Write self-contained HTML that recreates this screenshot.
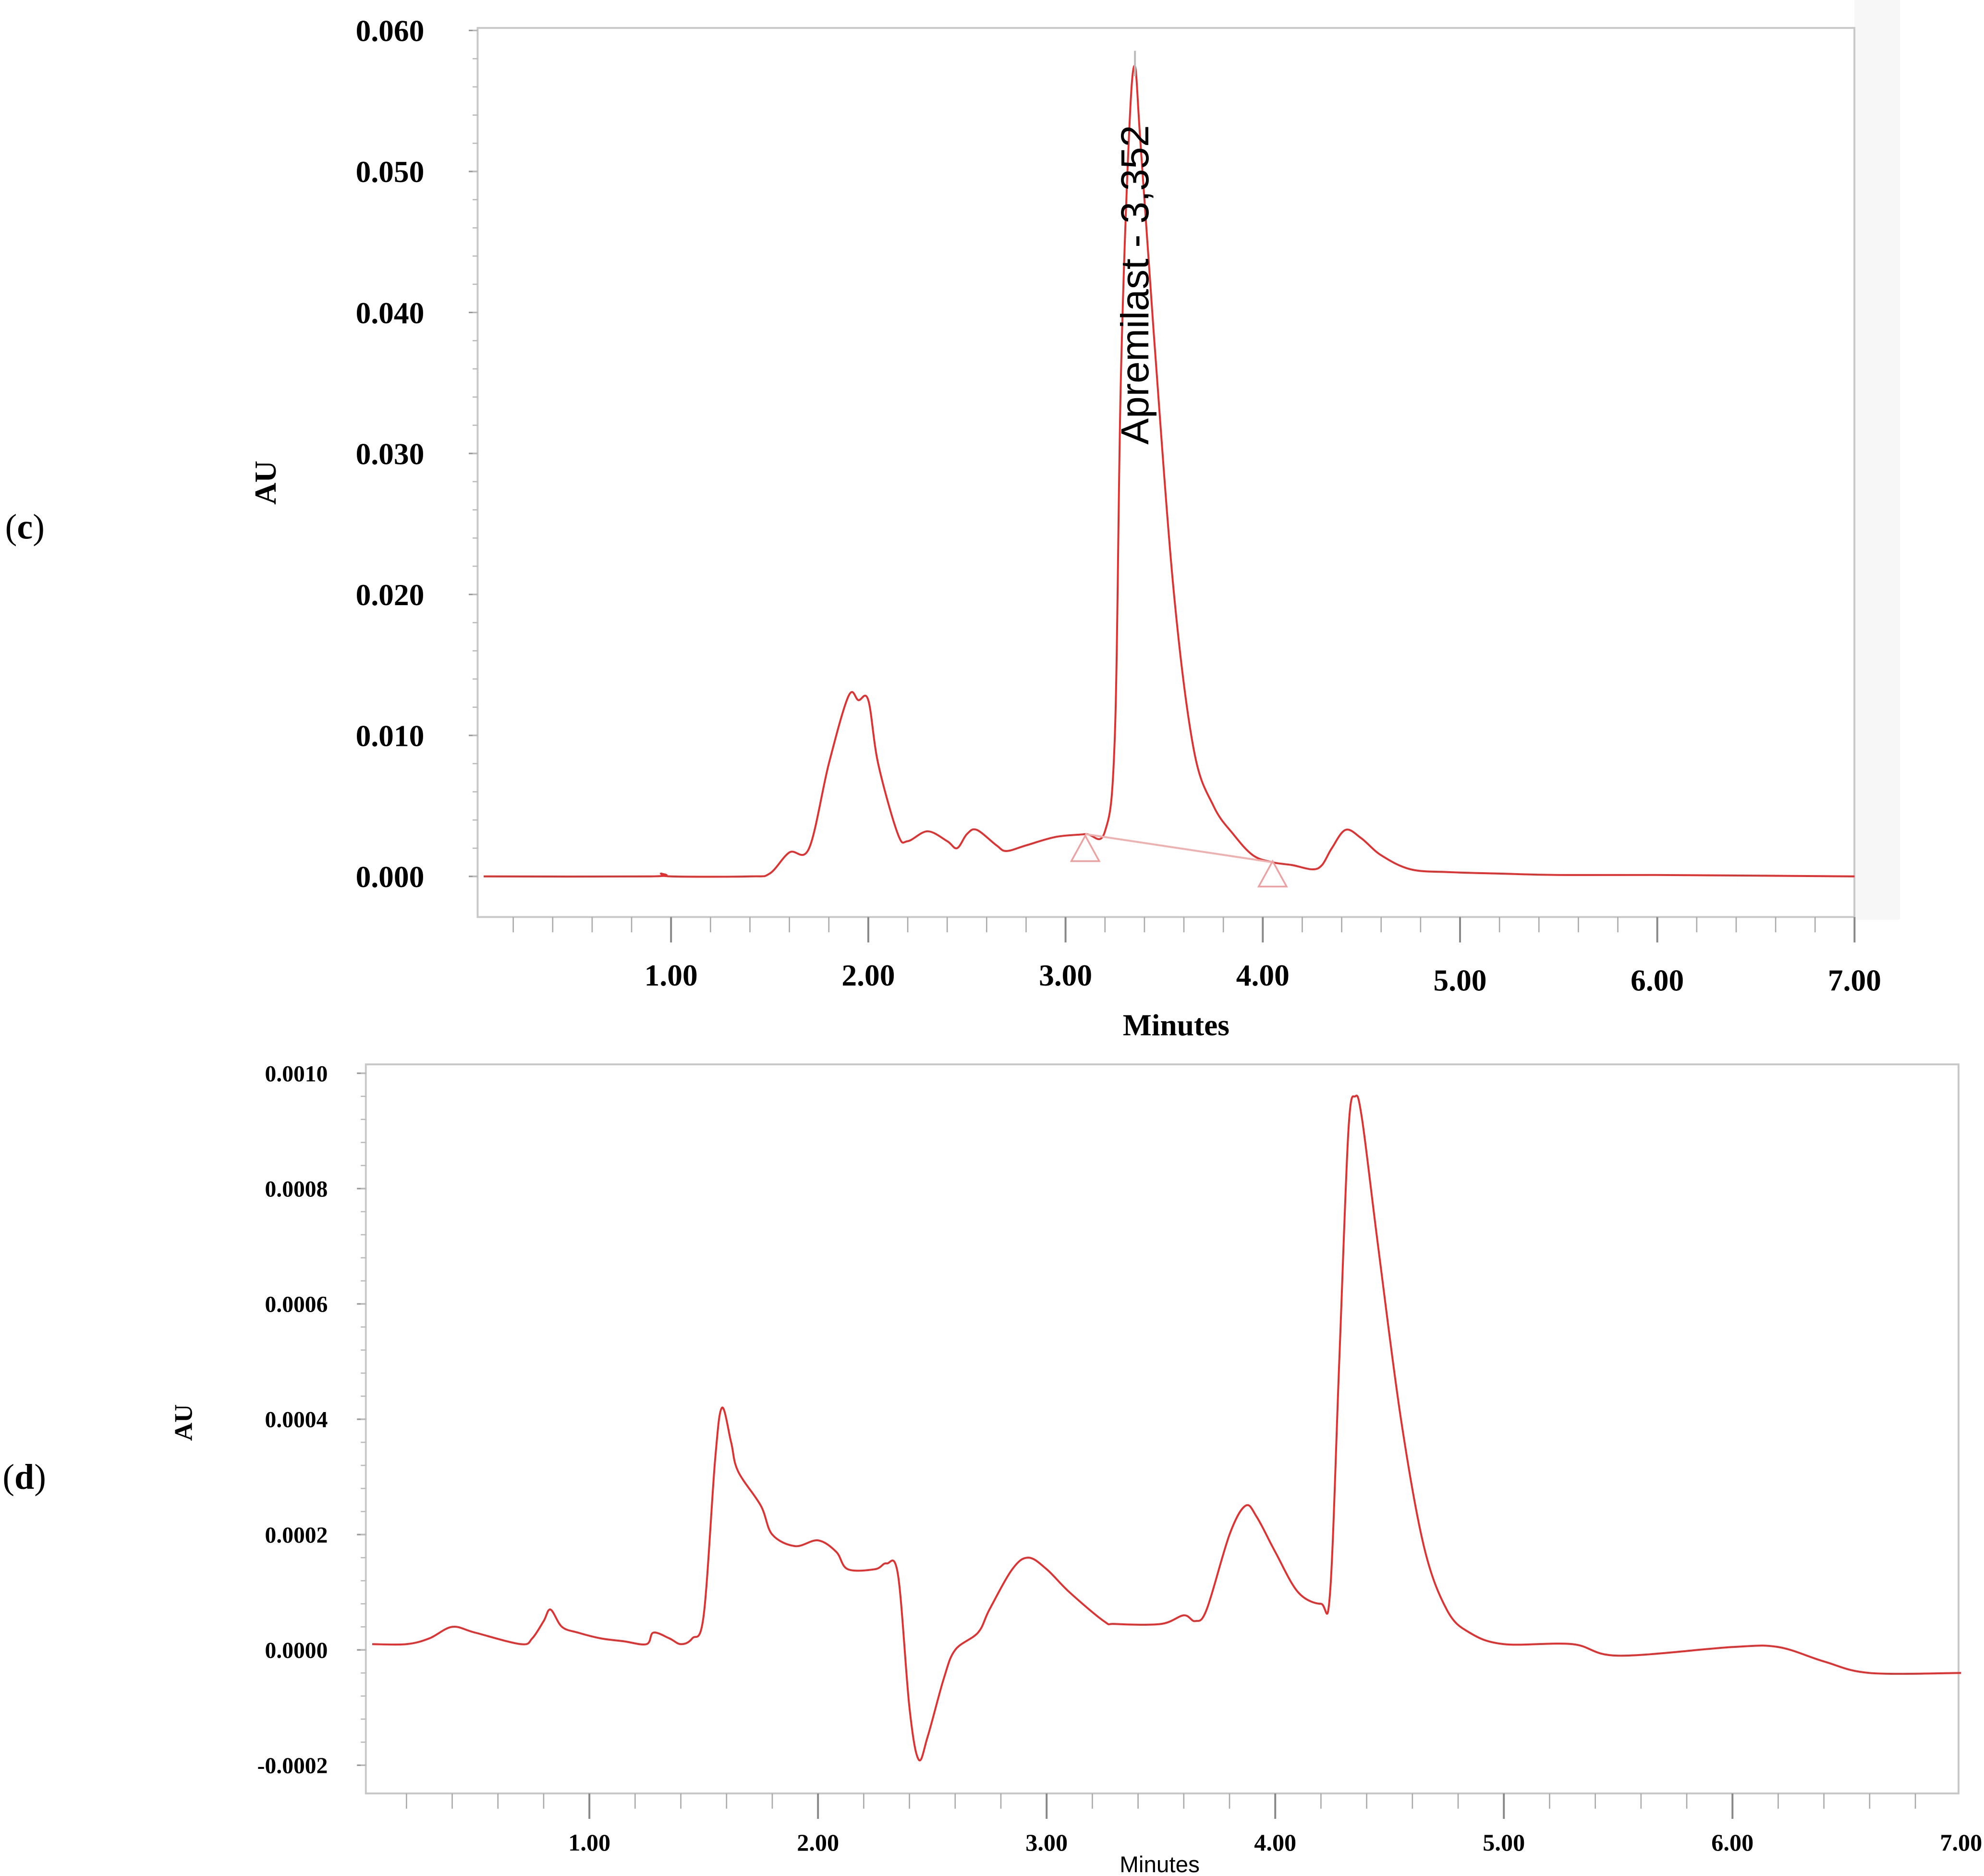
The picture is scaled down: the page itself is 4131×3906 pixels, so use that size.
<!DOCTYPE html>
<html><head><meta charset="utf-8"><style>
html,body{margin:0;padding:0;background:#fff;}
svg{display:block;}
</style></head><body>
<svg id="fig" width="4131" height="3906" viewBox="0 0 1562 1477" xmlns="http://www.w3.org/2000/svg">
<rect x="0" y="0" width="1562" height="1477" fill="#fff"/>
<rect x="1460" y="0" width="36" height="724" fill="#f7f7f7"/>
<text x="4" y="424" font-family="Liberation Serif, serif" font-size="28">(<tspan font-weight="bold">c</tspan>)</text>
<text x="2" y="1172" font-family="Liberation Serif, serif" font-size="28">(<tspan font-weight="bold">d</tspan>)</text>
<g id="chartC"></g>
<g id="chartD"></g>
</svg>
<script>
const NS="http://www.w3.org/2000/svg";
// Chart C data
const cTime=[0.05,0.9,0.95,1.0,1.4,1.5,1.6,1.7,1.8,1.9,1.95,2.0,2.05,2.15,2.2,2.3,2.4,2.45,2.5,2.55,2.65,2.7,2.8,2.95,3.1,3.2,3.25,3.28,3.32,3.35,3.38,3.45,3.55,3.65,3.75,3.85,3.95,4.05,4.15,4.25,4.3,4.35,4.42,4.5,4.6,4.75,4.95,5.2,5.5,6.0,7.0];
const cAU=[0,0,0.0002,0,0,0.0002,0.0017,0.002,0.008,0.0128,0.0125,0.0125,0.008,0.003,0.0025,0.0032,0.0025,0.002,0.003,0.0033,0.0022,0.0018,0.0022,0.0028,0.003,0.0032,0.01,0.035,0.052,0.0575,0.052,0.038,0.02,0.009,0.005,0.003,0.0015,0.001,0.0008,0.0005,0.0008,0.002,0.0033,0.0027,0.0015,0.0005,0.0003,0.0002,0.0001,0.0001,0];
const cYTicks=[0,0.01,0.02,0.03,0.04,0.05,0.06];
const cYLabels=["0.000","0.010","0.020","0.030","0.040","0.050","0.060"];
const cXTicks=[1,2,3,4,5,6,7];
const cXLabels=["1.00","2.00","3.00","4.00","5.00","6.00","7.00"];
const cBaseline=[[3.1,0.003],[4.05,0.001]];
// Chart D data
const dTime=[0.05,0.2,0.3,0.4,0.5,0.7,0.75,0.8,0.83,0.88,0.95,1.05,1.15,1.25,1.28,1.35,1.4,1.45,1.5,1.55,1.58,1.62,1.65,1.75,1.8,1.9,2.0,2.08,2.13,2.25,2.3,2.35,2.4,2.44,2.48,2.55,2.6,2.7,2.75,2.85,2.92,3.0,3.1,3.25,3.3,3.5,3.6,3.65,3.7,3.8,3.87,3.92,4.0,4.1,4.2,4.24,4.28,4.32,4.35,4.38,4.45,4.55,4.65,4.75,4.85,5.0,5.3,5.5,6.0,6.2,6.4,6.6,7.0];
const dAU=[0.00001,0.00001,0.00002,0.00004,0.00003,0.00001,0.00002,0.00005,0.00007,0.00004,0.00003,0.00002,0.000015,0.00001,0.00003,0.00002,0.00001,0.00002,0.00006,0.00033,0.00042,0.00036,0.00031,0.00025,0.0002,0.00018,0.00019,0.00017,0.00014,0.00014,0.00015,0.00013,-0.0001,-0.00019,-0.00015,-0.00005,0,0.00003,0.00007,0.00014,0.00016,0.00014,0.0001,0.00005,0.000045,0.000045,0.00006,0.00005,0.00007,0.0002,0.00025,0.00023,0.00017,0.0001,0.00008,0.0001,0.0005,0.0009,0.00096,0.00092,0.0007,0.0004,0.00018,0.00007,0.00003,0.00001,0.00001,-0.00001,0.000005,0.000005,-0.00002,-0.00004,-0.00004];
const dYTicks=[-0.0002,0,0.0002,0.0004,0.0006,0.0008,0.001];
const dYLabels=["-0.0002","0.0000","0.0002","0.0004","0.0006","0.0008","0.0010"];
const dXTicks=[1,2,3,4,5,6,7];
const dXLabels=["1.00","2.00","3.00","4.00","5.00","6.00","7.00"];

function mk(parent,tag,attrs){const e=document.createElementNS(NS,tag);for(const k in attrs)e.setAttribute(k,attrs[k]);parent.appendChild(e);return e;}
function smooth(pts){let d="M"+pts[0][0]+","+pts[0][1];for(let i=0;i<pts.length-1;i++){const p0=pts[i-1]||pts[i],p1=pts[i],p2=pts[i+1],p3=pts[i+2]||p2;const c1x=p1[0]+(p2[0]-p0[0])/6,c1y=p1[1]+(p2[1]-p0[1])/6,c2x=p2[0]-(p3[0]-p1[0])/6,c2y=p2[1]-(p3[1]-p1[1])/6;d+=` C${c1x},${c1y} ${c2x},${c2y} ${p2[0]},${p2[1]}`;}return d;}

function drawChart(g,o){
  const X=t=>o.x0+t*o.xs, Y=v=>o.y0-v*o.ys;
  const fr=mk(g,'rect',{x:o.L,y:o.T,width:o.R-o.L,height:o.B-o.T,fill:'none',stroke:'#c8c8c8','stroke-width':1.5});
  
  
  o.yt.forEach((v,i)=>{
    const l=mk(g,'line',{x1:o.L-7,x2:o.L,y1:Y(v),y2:Y(v),stroke:'#999','stroke-width':1.2});
    
    
    const t=mk(g,'text',{x:o.L-o.ylOff,y:Y(v)+o.yfs*0.35,'text-anchor':'end','font-family':'Liberation Serif, serif','font-size':o.yfs,'font-weight':'bold'});
    t.textContent=o.yl[i];
    
    
  });
  const ymin=o.yt[0],ymax=o.yt[o.yt.length-1];
  for(let k=0;k<=Math.round((ymax-ymin)/o.ym);k++){const v=ymin+k*o.ym;const l=mk(g,'line',{x1:o.L-4,x2:o.L,y1:Y(v),y2:Y(v),stroke:'#bbb','stroke-width':1});}
  for(let k=1;k<=35;k++){const t=k*0.2;if(X(t)>o.R+1)break;const major=Math.abs(t-Math.round(t))<1e-6;const l=mk(g,'line',{x1:X(t),x2:X(t),y1:o.B,y2:o.B+(major?20:12),stroke:major?'#888':'#aaa','stroke-width':major?1.5:1});}
  o.xt.forEach((v,i)=>{
    const t=mk(g,'text',{x:X(v),y:o.xlY+(o.xlDrop&&v>=5?4:0),'text-anchor':'middle','font-family':'Liberation Serif, serif','font-size':o.xfs,'font-weight':'bold'});
    t.textContent=o.xl[i];
    
    
  });
  const pts=o.tm.map((t,i)=>[X(t),Y(o.au[i])]);
  const p=mk(g,'path',{d:smooth(pts),fill:'none',stroke:'#e03030','stroke-width':1.5,'stroke-linejoin':'round'});
  
  
  return {X,Y};
}

const gc=document.getElementById('chartC');
const C=drawChart(gc,{L:376,T:22,R:1460,B:722,x0:373,xs:155.3,y0:690,ys:11100,yt:cYTicks,yl:cYLabels,ym:0.002,xt:cXTicks,xl:cXLabels,tm:cTime,au:cAU,yfs:24,ylOff:42,xfs:24,xlY:776,xlDrop:true});
const bl=mk(gc,'line',{x1:C.X(cBaseline[0][0]),y1:C.Y(cBaseline[0][1]),x2:C.X(cBaseline[1][0]),y2:C.Y(cBaseline[1][1]),stroke:'#f0b0b0','stroke-width':1.5});


cBaseline.forEach(([t,v],i)=>{const x=C.X(t),y=i===0?680:700;const tr=mk(gc,'path',{d:`M${x},${y-22} L${x-11},${y-2} L${x+11},${y-2} Z`,fill:'none',stroke:'#eea0a0','stroke-width':1.3});});
const pl=mk(gc,'line',{x1:C.X(3.352),x2:C.X(3.352),y1:40,y2:60,stroke:'#bbb','stroke-width':1.5});


const lab=mk(gc,'text',{x:0,y:0,transform:'translate(904,350) rotate(-90)','font-family':'Liberation Sans, sans-serif','font-size':31});
lab.textContent='Apremilast - 3,352';


const cyt=mk(gc,'text',{x:0,y:0,transform:'translate(217,380) rotate(-90)','text-anchor':'middle','font-family':'Liberation Serif, serif','font-size':24,'font-weight':'bold'});
cyt.textContent='AU';


const cxt=mk(gc,'text',{x:926,y:815,'text-anchor':'middle','font-family':'Liberation Serif, serif','font-size':24,'font-weight':'bold'});
cxt.textContent='Minutes';



const gd=document.getElementById('chartD');
drawChart(gd,{L:288,T:838,R:1542,B:1412,x0:284,xs:180,y0:1299,ys:454000,yt:dYTicks,yl:dYLabels,ym:0.00004,xt:dXTicks,xl:dXLabels,tm:dTime,au:dAU,yfs:18,ylOff:30,xfs:19,xlY:1457,xlDrop:false});
const dyt=mk(gd,'text',{x:0,y:0,transform:'translate(151,1120) rotate(-90)','text-anchor':'middle','font-family':'Liberation Serif, serif','font-size':20,'font-weight':'bold'});
dyt.textContent='AU';


const dxt=mk(gd,'text',{x:913,y:1474,'text-anchor':'middle','font-family':'Liberation Sans, sans-serif','font-size':18});
dxt.textContent='Minutes';


</script>
</body></html>
